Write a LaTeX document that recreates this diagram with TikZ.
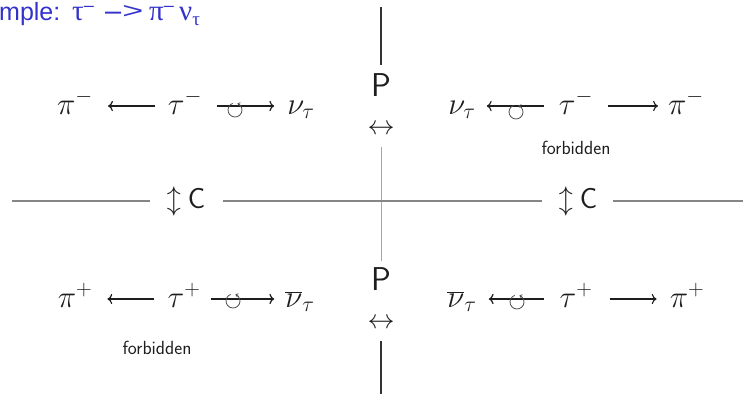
\RequirePackage{fix-cm}
\documentclass[tikz,border=0pt]{standalone}
\usepackage{graphicx}
\usepackage{fontspec}
\usetikzlibrary{arrows.meta}
\newfontfamily\titlefont{Liberation Sans}
\newfontfamily\greekfont{Liberation Serif}
\definecolor{titleblue}{RGB}{51,51,204}
\definecolor{inkc}{RGB}{30,30,30}
\begin{document}
\begin{tikzpicture}[x=1pt,y=1pt,
  eq/.style={inner sep=0pt, text height=22pt, text depth=6pt, text=inkc, font=\fontsize{31}{33}\selectfont},
  arr/.style={draw=inkc, line width=1.2pt, -{Computer Modern Rightarrow[scale=1.15]}},
  spinn/.style={circle, minimum size=14pt, inner sep=0pt},
  spinl/.style={draw=black!70, line width=0.8pt, -{Straight Barb[length=2pt,width=3.5pt]}},
  note/.style={inner sep=0pt, text=inkc, font=\sffamily\fontsize{19}{21}\selectfont},
  sym/.style={inner sep=0pt, text=inkc, font=\sffamily\fontsize{33}{35}\selectfont},
  ttl/.style={anchor=base west, text=titleblue, inner sep=0pt, text height=17pt, text depth=7pt, font=\titlefont\fontsize{25}{27}\selectfont},
  hline/.style={draw=gray!95, line width=1.5pt},
  vdark/.style={draw=black!80, line width=1.5pt},
  vlight/.style={draw=black!35, line width=0.9pt}]
\useasboundingbox (0,0) rectangle (743,-394);
% title
\node[ttl] (t1) at (-1,-20) {mple:};
\node[ttl] (t2) at (72,-20) {{\greekfont\fontsize{29}{29}\selectfont τ}\raisebox{9pt}{\fontsize{18}{18}\selectfont –}};
\node[ttl] (t3) at (105,-20) {{\fontsize{29}{29}\selectfont –\kern1pt\raisebox{2pt}{\resizebox{21pt}{13pt}{>}}}};
\node[ttl] (t4) at (149,-20) {{\greekfont\fontsize{29}{29}\selectfont π}\raisebox{9pt}{\fontsize{18}{18}\selectfont –}};
\node[ttl] (t5) at (179,-20) {{\greekfont\fontsize{29}{29}\selectfont ν}\raisebox{-5pt}{\greekfont\fontsize{19}{19}\selectfont τ}};
% axes
\coordinate (vt) at (381,-7);
\coordinate (vb) at (381,-394);
\coordinate (hl) at (12,-201);
\coordinate (hr) at (743,-201);
\node[sym] (PU) at (381,-85) {P};
\node[inner sep=0pt, text=inkc, font=\fontsize{27}{29}\selectfont] (AU) at (381,-130) {$\leftrightarrow$};
\node[sym] (PD) at (381,-279) {P};
\node[inner sep=0pt, text=inkc, font=\fontsize{27}{29}\selectfont] (AD) at (381,-324) {$\leftrightarrow$};
\node[inner sep=0pt, text=inkc] (CL) at (186,-201) {\fontsize{28}{30}\selectfont$\updownarrow$\hspace{7pt}\sffamily\fontsize{29}{31}\selectfont C};
\node[inner sep=0pt, text=inkc] (CR) at (578,-201) {\fontsize{28}{30}\selectfont$\updownarrow$\hspace{7pt}\sffamily\fontsize{29}{31}\selectfont C};
\draw[vdark] (vt) -- ([yshift=8pt]PU.north);
\draw[vlight] ([yshift=-12pt]AU.south) -- ([yshift=6pt]PD.north);
\draw[vdark] ([yshift=-12pt]AD.south) -- (vb);
\draw[hline] (hl) -- ([xshift=-17pt]CL.west);
\draw[hline] ([xshift=18pt]CL.east) -- ([xshift=-17pt]CR.west);
\draw[hline] ([xshift=16pt]CR.east) -- (hr);
% upper left
\node[eq] (piUL) at (75,-106) {$\pi^-$};
\node[eq] (tauUL) at (185,-106) {$\tau^-$};
\node[eq] (nuUL) at (301,-106) {$\nu_\tau$};
\draw[arr, shorten <=13pt, shorten >=15pt] (tauUL) -- (piUL);
\draw[arr, shorten <=15pt, shorten >=13pt] (tauUL) -- (nuUL);
\node[spinn] (sUL) at (235,-110) {};
\draw[spinl] (sUL.center) ++(110:7pt) arc[start angle=110, end angle=430, radius=7pt];
% upper right
\node[eq] (nuUR) at (462,-106) {$\nu_\tau$};
\node[eq] (tauUR) at (576,-106) {$\tau^-$};
\node[eq] (piUR) at (686,-106) {$\pi^-$};
\draw[arr, shorten <=15pt, shorten >=11pt] (tauUR) -- (nuUR);
\draw[arr, shorten <=15pt, shorten >=10pt] (tauUR) -- (piUR);
\node[spinn] (sUR) at (516,-112) {};
\draw[spinl] (sUR.center) ++(110:7pt) arc[start angle=110, end angle=430, radius=7pt];
\node[note] (fUR) at (576,-148) {forbidden};
% lower left
\node[eq] (piLL) at (75,-299) {$\pi^+$};
\node[eq] (tauLL) at (184,-299) {$\tau^+$};
\node[eq] (nuLL) at (300,-299) {$\overline{\nu}_\tau$};
\draw[arr, shorten <=13pt, shorten >=15pt] (tauLL) -- (piLL);
\draw[arr, shorten <=10pt, shorten >=11pt] (tauLL) -- (nuLL);
\node[spinn] (sLL) at (233,-301) {};
\draw[spinl] (sLL.center) ++(110:7pt) arc[start angle=110, end angle=430, radius=7pt];
\node[note] (fLL) at (157,-348) {forbidden};
% lower right
\node[eq] (nuLR) at (462,-299) {$\overline{\nu}_\tau$};
\node[eq] (tauLR) at (576,-299) {$\tau^+$};
\node[eq] (piLR) at (687,-299) {$\pi^+$};
\draw[arr, shorten <=15pt, shorten >=12pt] (tauLR) -- (nuLR);
\draw[arr, shorten <=17pt, shorten >=13pt] (tauLR) -- (piLR);
\node[spinn] (sLR) at (517,-302) {};
\draw[spinl] (sLR.center) ++(110:7pt) arc[start angle=110, end angle=430, radius=7pt];
\end{tikzpicture}
\end{document}
